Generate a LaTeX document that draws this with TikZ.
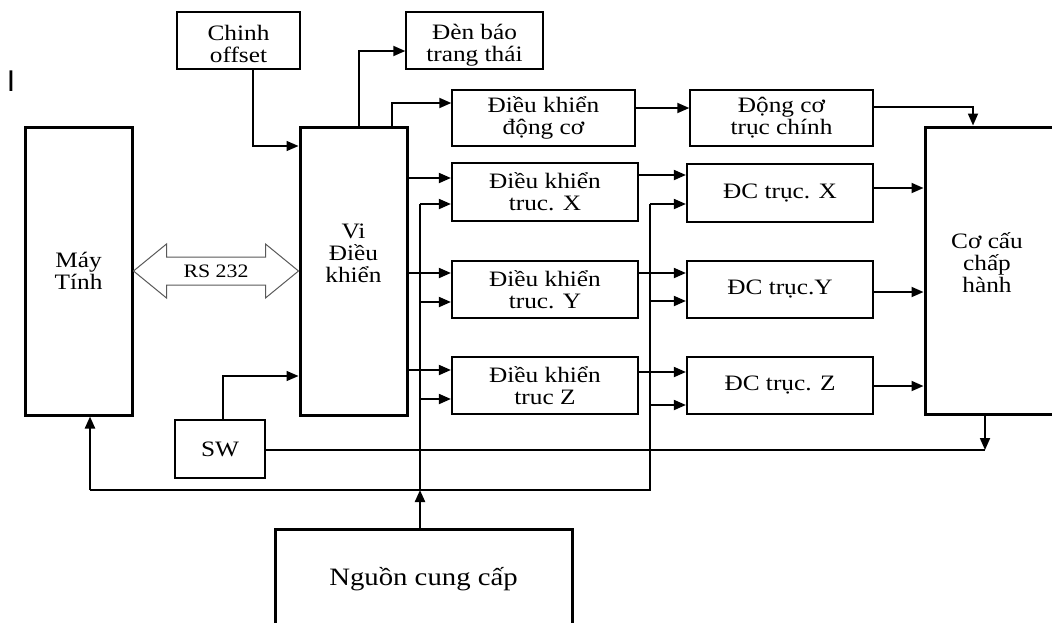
\documentclass[tikz,border=0pt]{standalone}
\usepackage{fontspec}
\setmainfont{Liberation Serif}
\newfontfamily\tnr[FakeStretch=1.15]{Liberation Serif}
\newfontfamily\sanf{Liberation Sans}
\usetikzlibrary{arrows.meta,calc}
\begin{document}
\begin{tikzpicture}[x=1pt,y=-1pt,
 box/.style={draw, line width=1.4pt, inner sep=0pt, align=center, font=\tnr\fontsize{22}{22}\selectfont},
 thickbox/.style={box, line width=3pt},
 medbox/.style={box, line width=2.2pt},
 txt/.style={align=center, inner sep=0pt, font=\tnr\fontsize{22}{22}\selectfont},
 arr/.style={-{Triangle[length=12pt,width=10pt]}, line width=1.8pt},
 thinarr/.style={-{Triangle[length=12pt,width=10pt]}, line width=1.4pt},
 thinln/.style={line width=1.4pt},
 bus/.style={line width=2.4pt},
 rsarrow/.style={line width=1pt, draw=black!65, fill=white}]
\useasboundingbox (0,0) rectangle (1052,622);

\node[font=\sanf\fontsize{30}{30}\selectfont, inner sep=0pt] (stray) at (11,81) {I};

% boxes
\node[thickbox, minimum width=107pt, minimum height=288pt] (pc) at (78.5,271) {Máy\\Tính};
\node[thickbox, minimum width=107pt, minimum height=288pt] (mcu) at (353.5,271) {};
\node[txt] (mcut) at (353.5,253) {Vi\\Điều\\khiển};
\node[box, minimum width=123pt, minimum height=57pt] (off) at (238.5,40.5) {};
\node[txt] (offt) at (238.5,44) {Chinh\\offset};
\node[box, minimum width=137pt, minimum height=57pt] (den) at (474.5,40.5) {};
\node[txt] (dent) at (474.5,45) {Đèn báo\\trang thái};
\node[box, minimum width=183pt, minimum height=56pt] (dkdc) at (543.5,118) {Điều khiển\\động cơ};
\node[box, minimum width=183pt, minimum height=56pt] (dcc) at (781.5,118) {Động cơ\\trục chính};
\node[medbox, minimum width=186pt, minimum height=58pt] (dkx) at (545,192) {Điều khiển\\truc. X};
\node[medbox, minimum width=186pt, minimum height=58pt] (dcx) at (780,193) {ĐC trục. X};
\node[medbox, minimum width=186pt, minimum height=57pt] (dky) at (545,289.5) {Điều khiển\\truc. Y};
\node[medbox, minimum width=186pt, minimum height=57pt] (dcy) at (780,289.5) {ĐC trục.Y};
\node[medbox, minimum width=186pt, minimum height=57pt] (dkz) at (545,385.5) {Điều khiển\\truc Z};
\node[medbox, minimum width=186pt, minimum height=57pt] (dcz) at (780,385.5) {ĐC trục. Z};
\node[thickbox, minimum width=135pt, minimum height=287pt] (co) at (992.5,270.5) {};
\node[txt] (cot) at (987,263) {Cơ cấu\\chấp\\hành};
\node[box, minimum width=90pt, minimum height=58pt] (sw) at (220,449) {SW};
\node[thickbox, minimum width=297pt, minimum height=101pt, font=\tnr\fontsize{25}{25}\selectfont] (src) at (423.5,579.5) {Nguồn cung cấp};

% RS 232 double arrow
\draw[rsarrow] (pc.east) -- ($(pc.east)+(33,-27)$) -- ($(pc.east)+(33,-14)$)
  -- ($(mcu.west)+(-33,-14)$) -- ($(mcu.west)+(-33,-27)$) -- (mcu.west)
  -- ($(mcu.west)+(-33,27)$) -- ($(mcu.west)+(-33,14)$)
  -- ($(pc.east)+(33,14)$) -- ($(pc.east)+(33,27)$) -- cycle;
\node[font=\tnr\fontsize{19}{19}\selectfont, inner sep=0pt] (rs) at ($(pc.east)!0.5!(mcu.west)$) {RS 232};

% top connectors
\draw[thinarr] (off.south -| 253,0) |- (mcu.west |- 0,146);
\draw[arr] (mcu.north -| 359,0) |- (den.west |- 0,51);
\draw[arr] (mcu.north -| 392,0) |- (dkdc.west |- 0,103);
\draw[arr] (dkdc.east |- 0,108) -- (dcc.west |- 0,108);
\draw[arr] (dcc.east |- 0,107) -| (co.north -| 973,0);

% MCU to axis controllers
\draw[arr] (mcu.east |- 0,178) -- (dkx.west |- 0,178);
\draw[arr] (mcu.east |- 0,273) -- (dky.west |- 0,273);
\draw[arr] (mcu.east |- 0,370) -- (dkz.west |- 0,370);

% power bus 1
\coordinate (b1t) at (420,204);
\coordinate (b1b) at (420,490);
\draw[bus] (b1t) -- (b1b);
\draw[arr] (b1t) -- (dkx.west |- b1t);
\draw[arr] (b1t |- 0,302) -- (dky.west |- 0,302);
\draw[arr] (b1t |- 0,399) -- (dkz.west |- 0,399);
\draw[arr, line width=2.2pt] (src.north -| b1b) -- (b1b);

% power bus 2 and return to PC
\coordinate (b2t) at (650,204);
\coordinate (b2b) at (650,490);
\coordinate (pcin) at (90,490);
\draw[bus] (b2t) -- (b2b) -- (pcin);
\draw[arr, line width=2.2pt] (pcin) -- (pc.south -| pcin);
\draw[arr] (b2t) -- (dcx.west |- b2t);
\draw[arr] (b2t |- 0,301) -- (dcy.west |- 0,301);
\draw[arr] (b2t |- 0,405) -- (dcz.west |- 0,405);

% controllers to motors
\draw[arr] (dkx.east |- 0,175) -- (dcx.west |- 0,175);
\draw[arr] (dky.east |- 0,273) -- (dcy.west |- 0,273);
\draw[arr] (dkz.east |- 0,372) -- (dcz.west |- 0,372);

% motors to actuator
\draw[arr] (dcx.east |- 0,188) -- (co.west |- 0,188);
\draw[arr] (dcy.east |- 0,292) -- (co.west |- 0,292);
\draw[arr] (dcz.east |- 0,386) -- (co.west |- 0,386);

% SW
\draw[thinarr] (sw.north -| 223,0) |- (mcu.west |- 0,376);
\coordinate (swe) at (985,450);
\draw[thinln] (sw.east |- swe) -- (swe);
\draw[arr] (co.south -| swe) -- (swe);
\end{tikzpicture}
\end{document}
